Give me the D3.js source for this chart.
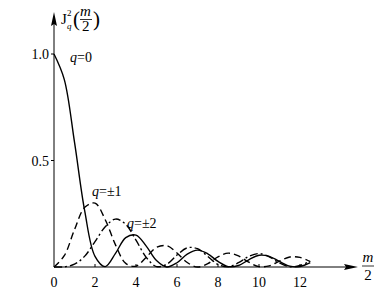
<!DOCTYPE html>
<html lang="en">
<head>
<meta charset="UTF-8">
<title>Bessel squared</title>
<script src="https://d3js.org/d3.v7.min.js"></script>
<style>
  body { margin: 0; background: #fff; }
  svg text { font-family: "Liberation Serif", "Times New Roman", serif; }
</style>
</head>
<body>
<script>
// sample points along m/2
var xs = d3.range(0, 12.51, 0.5);

// J0^2, J1^2, J2^2 at the sample points
var q0 = [1.000, 0.881, 0.586, 0.262, 0.050, 0.002, 0.064, 0.138, 0.150, 0.098,
          0.030, 0.000, 0.020, 0.060, 0.079, 0.062, 0.026, 0.002, 0.007, 0.034,
          0.055, 0.050, 0.026, 0.004, 0.002, 0.020];
var q1 = [0.000, 0.053, 0.175, 0.280, 0.300, 0.222, 0.104, 0.017, 0.004, 0.046,
          0.092, 0.100, 0.066, 0.021, 0.000, 0.016, 0.048, 0.065, 0.052, 0.023,
          0.002, 0.005, 0.028, 0.047, 0.045, 0.025];
var q2 = [0.000, 0.001, 0.013, 0.051, 0.119, 0.189, 0.225, 0.200, 0.126, 0.045,
          0.002, 0.013, 0.056, 0.090, 0.086, 0.050, 0.012, 0.001, 0.020, 0.050,
          0.063, 0.048, 0.019, 0.001, 0.007, 0.028];

var xTicks = [0, 2, 4, 6, 8, 10, 12];
var yTicks = [0.5, 1.0];

var W = 389, H = 294;

var x = d3.scaleLinear().domain([0, 2]).range([54, 95]);
var y = d3.scaleLinear().domain([0, 1]).range([267, 54]);

var svg = d3.select("body").append("svg")
  .attr("width", W).attr("height", H);

svg.append("rect").attr("width", W).attr("height", H).attr("fill", "#fff");

// axes with arrow heads
svg.append("line").attr("x1", x(0)).attr("y1", y(0)).attr("x2", 350).attr("y2", y(0))
  .attr("stroke", "#000").attr("stroke-width", 1);
svg.append("path").attr("d", `M358,${y(0)}L344,${y(0) - 3}L346,${y(0)}L344,${y(0) + 3}Z`)
  .attr("fill", "#000");
svg.append("line").attr("x1", x(0)).attr("y1", y(0)).attr("x2", x(0)).attr("y2", 20)
  .attr("stroke", "#000").attr("stroke-width", 1);
svg.append("path").attr("d", `M${x(0)},12L${x(0) - 3},26L${x(0)},24L${x(0) + 3},26Z`)
  .attr("fill", "#000");

// x ticks
svg.selectAll(".xt").data(xTicks.slice(1)).enter().append("line")
  .attr("x1", d => x(d)).attr("x2", d => x(d))
  .attr("y1", y(0)).attr("y2", y(0) - 3)
  .attr("stroke", "#000");
svg.selectAll(".xl").data(xTicks).enter().append("text")
  .attr("x", d => x(d)).attr("y", 287)
  .attr("text-anchor", "middle").attr("font-size", 14)
  .text(d => d);

// y ticks
svg.selectAll(".yt").data(yTicks).enter().append("line")
  .attr("x1", x(0) - 3).attr("x2", x(0))
  .attr("y1", d => y(d)).attr("y2", d => y(d))
  .attr("stroke", "#000");
svg.selectAll(".yl").data(yTicks).enter().append("text")
  .attr("x", x(0) - 5).attr("y", d => y(d) + 5)
  .attr("text-anchor", "end").attr("font-size", 14)
  .text(d => d.toFixed(1));

// curves
var line = d3.line()
  .x((d, i) => x(xs[i]))
  .y(d => y(d))
  .curve(d3.curveCatmullRom.alpha(0.5));

[[q0, null], [q1, "7,4"], [q2, "8,3,2,3"]].forEach(function(s) {
  svg.append("path")
    .attr("d", line(s[0]))
    .attr("fill", "none")
    .attr("stroke", "#000")
    .attr("stroke-width", 1.4)
    .attr("stroke-dasharray", s[1]);
});

// curve labels
function qlabel(px, py, rest) {
  var t = svg.append("text").attr("x", px).attr("y", py).attr("font-size", 14);
  t.append("tspan").attr("font-style", "italic").text("q");
  t.append("tspan").text(rest);
}
qlabel(70, 62, "=0");
qlabel(92, 196, "=\u00b11");
qlabel(127, 228, "=\u00b12");

// y axis title J_q^2(m/2)
var tt = svg.append("g").attr("font-size", 15);
tt.append("text").attr("x", 61).attr("y", 24).text("J");
tt.append("text").attr("x", 67).attr("y", 16).attr("font-size", 9).text("2");
tt.append("text").attr("x", 67).attr("y", 29).attr("font-size", 9)
  .attr("font-style", "italic").text("q");
tt.append("text").attr("x", 73).attr("y", 26).attr("font-size", 21).text("(");
tt.append("text").attr("x", 80).attr("y", 16).attr("font-style", "italic").text("m");
tt.append("line").attr("x1", 80).attr("x2", 92).attr("y1", 19.5).attr("y2", 19.5)
  .attr("stroke", "#000").attr("stroke-width", 0.8);
tt.append("text").attr("x", 82).attr("y", 31).text("2");
tt.append("text").attr("x", 93).attr("y", 26).attr("font-size", 21).text(")");

// x axis title m/2
var xt = svg.append("g").attr("font-size", 15);
xt.append("text").attr("x", 368).attr("y", 262).attr("text-anchor", "middle")
  .attr("font-style", "italic").text("m");
xt.append("line").attr("x1", 362).attr("x2", 374).attr("y1", 266).attr("y2", 266)
  .attr("stroke", "#000").attr("stroke-width", 0.8);
xt.append("text").attr("x", 368).attr("y", 280).attr("text-anchor", "middle").text("2");
</script>
</body>
</html>
